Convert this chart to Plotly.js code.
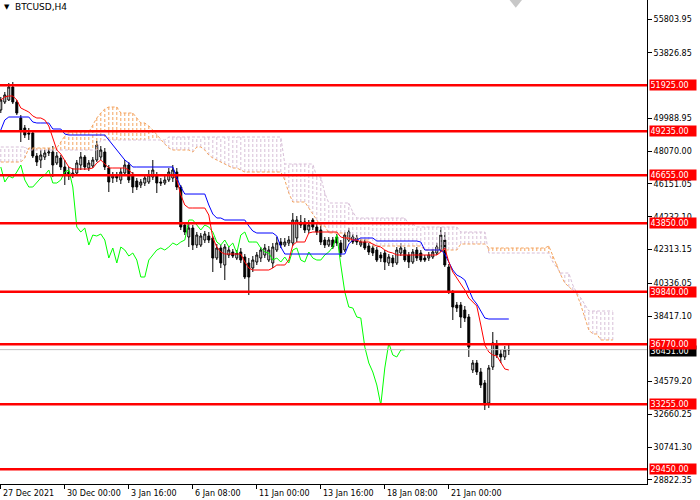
<!DOCTYPE html>
<html><head><meta charset="utf-8">
<script src="https://cdn.plot.ly/plotly-3.0.1.min.js"></script>
<style>html,body{margin:0;padding:0;background:#fff}</style>
</head><body><div id="chart" style="width:700px;height:500px"></div>
<script>
const symbol = "BTCUSD,H4";

const opens = [50478,50946,51063,51824,50946,50009,49424,49131,49131,47785,
47551,47726,47960,48019,47375,47668,47141,46848,46673,46790,
47258,47726,47082,47199,47551,47726,48019,47082,46497,46614,
46380,46790,47258,46614,46321,46087,46204,46263,46555,46673,
46263,46204,46380,46497,46848,45970,43746,43044,43570,42575,
42575,42868,43102,42985,41814,42400,41405,41990,42166,41814,
42166,41873,41522,41229,41580,41814,41990,41697,41522,42283,
42751,42575,42692,42692,42985,43922,43922,43453,44039,43629,
43453,42868,42575,42868,43044,42692,42283,42868,43044,42985,
42575,42751,42517,42400,42283,41990,42107,41522,41814,41522,
42107,42283,41990,41580,42283,42107,41814,41814,41873,42107,
42283,42868,41287,39766,39063,39063,38771,38361,35260,35670,
35143,34499,33328,35436,36723,36197,36021,36431];

const highs = [51239,51532,52058,52117,51063,50185,49600,49424,49307,47960,
48136,48136,48253,48370,48019,47843,47551,47141,47082,47551,
48019,47843,47551,47726,48663,48370,48253,47258,46848,46848,
47082,47551,47434,46848,46497,46438,46673,46965,47551,46848,
46497,46614,47082,47258,47082,46087,43922,43805,43746,43336,
43278,43395,43336,43102,42634,42575,42634,42517,42341,42283,
42400,42048,41814,41931,42166,42458,42634,42517,42692,43044,
42985,42985,43102,44449,44273,44331,44156,44039,44156,43805,
43863,43044,43044,43044,43219,42868,43336,43570,43219,43161,
42927,42927,42692,42575,42458,42166,42283,42048,41990,42458,
42692,42458,42166,42341,42458,42283,41990,42166,42341,42692,
43629,43336,41463,39941,39239,39239,39005,38537,35845,35845,
35377,34675,35553,37484,37016,36431,36665,36723];

const lows = [50302,50829,51005,50829,50185,48604,48839,48722,47668,47199,
47082,47551,47785,46555,47258,46965,46087,46380,46497,46614,
46965,46965,46907,47082,47434,47551,46965,45677,46204,46263,
46146,46614,46204,45619,45794,45911,46029,46146,46380,45619,
46029,46087,46263,46263,45794,43453,43161,42458,42283,42400,
42458,42692,42692,40995,41697,41229,40526,41814,41814,41697,
41522,40585,39648,40995,41405,41580,41814,41580,41229,42166,
42400,42458,42517,42517,42751,43570,43278,43278,43453,43161,
42575,42400,42458,42341,42517,41873,42166,42751,42634,42575,
42458,42283,41990,41931,41580,41580,41112,41346,41287,41405,
41931,41580,41229,41463,41639,41580,41580,41639,41756,41990,
42166,41287,39707,38186,38654,37718,38069,36021,35084,34967,
34206,32919,33036,35260,35962,35670,35845,36138];

const closes = [51063,51356,51824,50946,50302,49307,49014,49073,47785,47434,
47843,47960,48019,47258,47785,47141,46673,46614,46790,47375,
47726,47141,47375,47551,48429,48136,47141,46263,46614,46497,
46848,47258,46380,45970,45970,46263,46497,46673,46965,46204,
46204,46380,46848,46965,45970,43629,43336,43570,42575,43161,
43102,43219,42868,41814,42400,41522,42458,42283,41931,42107,
41697,40702,40702,41697,41990,42283,42400,42283,42458,42692,
42575,42751,42868,44039,44039,43746,43453,43746,43629,43336,
42751,42575,42868,42458,42692,42107,43161,43336,42751,42751,
42751,42400,42166,42107,41697,41814,41580,41873,41522,42283,
42400,41697,41580,42166,41814,41697,41697,41990,42166,42458,
43161,41405,39824,38946,38888,38361,38303,36606,35670,35143,
34382,33211,35377,36840,36138,36021,36431,36451];

const tenkan = [51063,51239,51297,51297,51063,50595,50478,50361,50127,50009,
50009,49892,49541,48839,48136,47902,47551,47141,47024,47024,
47024,47024,47024,47082,47375,47551,47316,47082,47082,47082,
47082,47082,46965,46731,46673,46673,46673,46673,46673,46673,
46673,46673,46673,46673,46380,45502,44917,44741,44741,44741,
44741,44741,44331,42985,42458,42166,42048,42048,42048,42048,
42048,41580,41229,41112,41112,41112,41112,41112,41229,41405,
41405,41405,41697,42575,42751,42751,42751,43278,43336,43336,
43336,43336,43336,43336,43336,43044,42985,42985,42868,42868,
42751,42751,42751,42634,42517,42458,42283,42166,42107,41990,
41990,41990,41990,41990,41990,41990,41990,41990,41990,41990,
42166,42400,41580,40995,40643,40292,39941,39473,39239,39005,
37893,36723,36314,36138,36080,35728,35319,35260];

const kijun = [49307,49892,50068,50068,50068,50068,50068,50068,49775,49717,
49717,49717,49717,49365,49365,49365,49073,49014,49014,49014,
49014,49014,49014,49014,49014,49014,49014,48722,48429,48136,
47843,47551,47375,47141,47141,47141,47141,47141,47141,47141,
47141,47141,47141,47141,46497,45970,45560,45560,45560,45560,
45560,45560,44917,44390,44156,44156,44039,44039,44039,44039,
44039,44039,43688,43395,43278,43278,43278,43278,43278,43102,
42458,42048,42048,42048,42048,42048,42048,42048,42048,42048,
42048,42048,42048,42048,42048,42048,42048,42634,42868,42868,
42985,42985,42985,42985,42810,42810,42810,42810,42810,42810,
42810,42810,42810,42810,42810,42751,42283,42283,42283,42283,
42283,42048,41580,41112,40819,40702,40526,39941,39415,39122,
38712,38303,38244,38244,38244,38244,38244,38244];

const spanA = [47434,47434,47434,47434,47434,47434,47668,48253,48253,48253,
48253,48253,48253,48253,48253,48604,48956,49190,49190,49190,
49190,49190,49190,49600,50009,50302,50536,50653,50653,50653,
50302,50302,50302,50302,50009,49717,49717,49541,49307,49014,
48722,48487,48253,48136,48136,48136,48136,48136,48019,48312,
48312,48136,47843,47668,47551,47434,47316,47199,47082,47082,
46965,46848,46848,46848,46848,46848,46848,46848,46848,46848,
46848,46380,45619,45093,45093,45093,45093,44741,44390,44039,
43688,43688,43278,43278,43278,43278,43278,42868,42868,42868,
42868,42868,42868,42517,42517,42517,42517,42517,42517,42517,
42517,42517,42517,42517,42517,42517,42283,42283,42283,42283,
42283,42283,42283,42283,42283,42634,42634,42634,42634,42634,
42634,42634,42400,42400,42400,42400,42400,42400,42400,42400,
42400,42400,42400,42400,42400,42400,42400,42517,41931,41463,
40819,40351,40117,39941,39707,39063,38303,37601,37367,37367,
37016,37016,37016,37016];

const spanB = [48312,48312,48312,48312,48312,48312,48312,48136,48136,48136,
48136,48136,48136,48136,48136,48136,48136,48136,48136,48136,
48136,48136,48136,48136,48136,48722,48722,48722,48722,48722,
48722,48722,48722,48722,48722,48722,48722,48722,48722,48722,
48722,48722,48897,48897,48897,48897,48897,48897,48897,48897,
48897,48897,48897,48897,48897,48897,48897,48897,48897,48897,
48897,48897,48897,48897,48897,48897,48897,48897,48897,48897,
48897,47316,47316,47316,47316,47316,47316,47316,47316,46555,
46555,45619,45034,45034,45034,45034,45034,45034,44507,44156,
44156,44156,44156,44156,44156,44156,44156,44156,44156,44156,
44156,44156,43805,43805,43629,43629,43629,43629,43629,43629,
43629,43629,43629,43629,43629,43336,43336,43336,43336,43336,
43336,43336,42107,42107,42107,42107,42107,42107,42107,42107,
42107,42107,42107,42107,42107,42107,42107,42107,41580,41229,
40936,40936,40936,40234,39766,39473,39063,38712,38712,38712,
38712,38712,38712,38712];

const levels = [51925, 49235, 46655, 43850, 39840, 36770, 33255, 29450];
const bid = 36451;
const yTickVals = [55803.95, 53826.85, 49988.95, 48070.00, 46151.05, 44232.10,
  42313.15, 40336.05, 38417.10, 34579.20, 32660.25, 30741.30, 28822.35];
const xTickBars = [0, 16, 32, 48, 64, 80, 96, 112];
const xTickLabels = ["27 Dec 2021", "30 Dec 00:00", "3 Jan 16:00", "6 Jan 08:00",
  "11 Jan 00:00", "13 Jan 16:00", "18 Jan 08:00", "21 Jan 00:00"];
const chikouShift = 26;

const FONT = "DejaVu Sans";
const bars = closes.map((_, i) => i);
const cloudBars = spanA.map((_, i) => i);

// cloud hatch
const hatchUp = {x: [], y: []}, hatchDn = {x: [], y: []};
spanA.forEach((a, i) => {
  const b = spanB[i];
  if (a === b) return;
  const t = a > b ? hatchUp : hatchDn;
  t.x.push(i, i, null); t.y.push(a, b, null);
});

const chX = [], chY = [];
for (let i = chikouShift; i < closes.length; i++) { chX.push(i - chikouShift); chY.push(closes[i]); }

const traces = [
  {type: 'scatter', mode: 'lines', x: hatchDn.x, y: hatchDn.y, connectgaps: false,
   line: {color: '#D8BFD8', width: 1, dash: '3px,2px'}, hoverinfo: 'skip'},
  {type: 'scatter', mode: 'lines', x: hatchUp.x, y: hatchUp.y, connectgaps: false,
   line: {color: '#F4A460', width: 1, dash: '3px,2px'}, hoverinfo: 'skip'},
  {type: 'scatter', mode: 'lines', x: cloudBars, y: spanB,
   line: {color: '#D8BFD8', width: 1, dash: '3px,2px'}, hoverinfo: 'skip'},
  {type: 'scatter', mode: 'lines', x: cloudBars, y: spanA,
   line: {color: '#F4A460', width: 1, dash: '3px,2px'}, hoverinfo: 'skip'},
  {type: 'candlestick', x: bars, open: opens, high: highs, low: lows, close: closes,
   whiskerwidth: 0, hoverinfo: 'skip',
   increasing: {line: {color: '#000000', width: 1}, fillcolor: '#FFFFFF'},
   decreasing: {line: {color: '#000000', width: 1}, fillcolor: '#000000'}},
  {type: 'scatter', mode: 'lines', x: chX, y: chY, line: {color: '#00FF00', width: 1}, hoverinfo: 'skip'},
  {type: 'scatter', mode: 'lines', x: bars, y: kijun, line: {color: '#0000FF', width: 1}, hoverinfo: 'skip'},
  {type: 'scatter', mode: 'lines', x: bars, y: tenkan, line: {color: '#FF0000', width: 1}, hoverinfo: 'skip'}
];

const shapes = [
  {type: 'line', xref: 'paper', x0: 0, x1: 1, yref: 'y', y0: bid, y1: bid,
   line: {color: '#C0C0C0', width: 1}, layer: 'above'}
];
levels.forEach(v => shapes.push({type: 'line', xref: 'paper', x0: 0, x1: 1, yref: 'y', y0: v, y1: v,
  line: {color: '#FF0000', width: 2.5}, layer: 'above'}));
shapes.push({type: 'path', xref: 'x', yref: 'paper',
  path: 'M 127.2 1 L 130.3 1 L 128.75 0.984 Z', fillcolor: '#C8C8C8', line: {width: 0}});

const annotations = [];
xTickBars.forEach((b, k) => annotations.push({
  xref: 'x', x: b, xanchor: 'left', yref: 'paper', y: 0, yanchor: 'top', yshift: -3,
  text: xTickLabels[k], showarrow: false, font: {family: FONT, size: 8, color: '#000'}}));
annotations.push({xref: 'paper', x: 1, xanchor: 'left', xshift: 1.5, yref: 'y', y: bid, yanchor: 'middle',
  yshift: -1, text: bid.toFixed(2), showarrow: false, bgcolor: '#000000', width: 45, align: 'left', borderpad: 0.5,
  font: {family: FONT, size: 8, color: '#FFFFFF'}});
levels.forEach(v => annotations.push({xref: 'paper', x: 1, xanchor: 'left', xshift: 1.5, yref: 'y', y: v,
  yanchor: 'middle', text: v.toFixed(2), showarrow: false, bgcolor: '#FF0000', width: 45, align: 'left',
  borderpad: 0.5, font: {family: FONT, size: 8, color: '#FFFFFF'}}));
annotations.push({xref: 'paper', x: 0, xanchor: 'left', xshift: 2, yref: 'paper', y: 1, yanchor: 'top', yshift: -1,
  text: '▼', showarrow: false, font: {family: FONT, size: 7, color: '#000'}});
annotations.push({xref: 'paper', x: 0, xanchor: 'left', xshift: 13, yref: 'paper', y: 1, yanchor: 'top', yshift: 0,
  text: symbol, showarrow: false, font: {family: FONT, size: 9, color: '#000'}});

const layout = {
  width: 700, height: 500,
  margin: {l: 0, r: 53, t: 0, b: 16, pad: 0},
  paper_bgcolor: '#FFFFFF', plot_bgcolor: '#FFFFFF',
  showlegend: false,
  xaxis: {type: 'linear', range: [-0.2, 161.55], showgrid: false, zeroline: false,
    showline: true, linecolor: '#000', linewidth: 1, ticks: 'outside', ticklen: 4, tickcolor: '#000',
    tickvals: xTickBars, showticklabels: false, rangeslider: {visible: false}, automargin: false, fixedrange: true},
  yaxis: {side: 'right', range: [28587, 56916], showgrid: false, zeroline: false,
    showline: true, linecolor: '#000', linewidth: 1, ticks: 'outside', ticklen: 4, tickcolor: '#000',
    tickvals: yTickVals, ticktext: yTickVals.map(v => v.toFixed(2)),
    tickfont: {family: FONT, size: 8, color: '#000'}, automargin: false, fixedrange: true},
  shapes: shapes,
  annotations: annotations
};

Plotly.newPlot('chart', traces, layout, {staticPlot: true, displayModeBar: false});
</script></body></html>
